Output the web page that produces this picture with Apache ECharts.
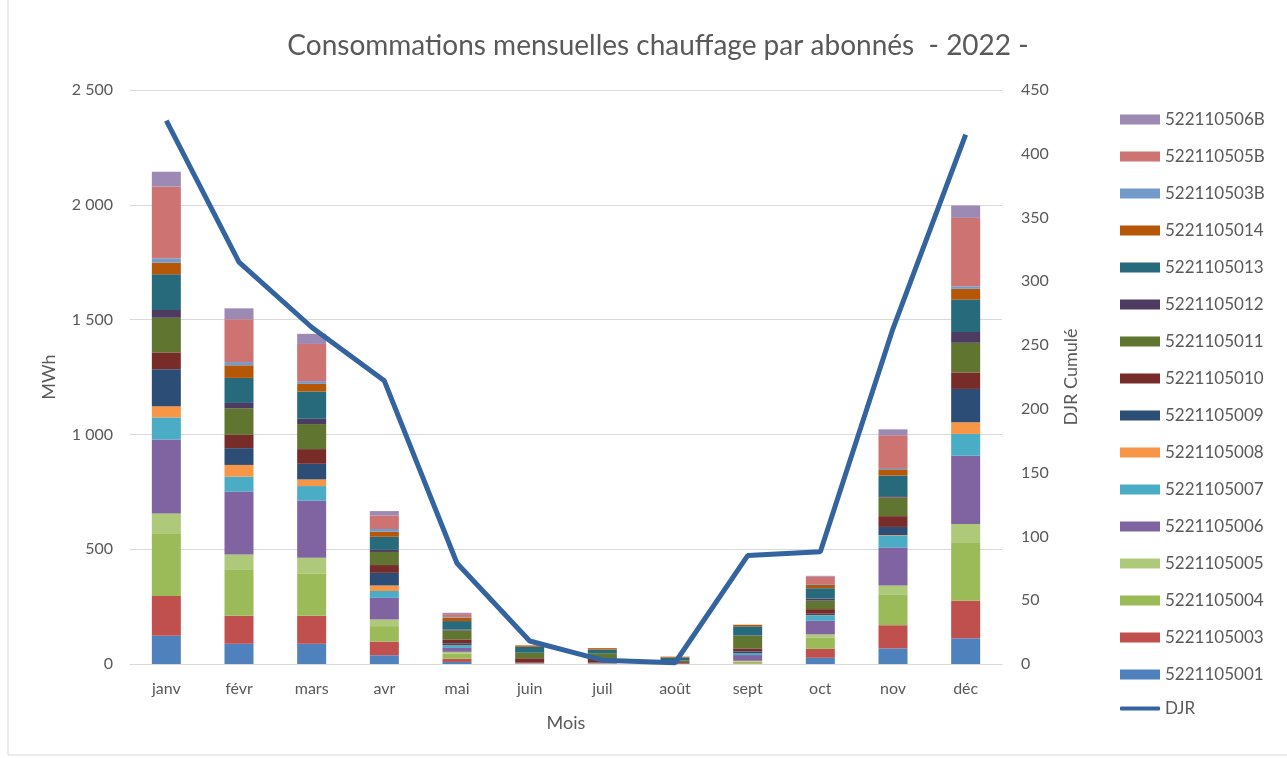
<!DOCTYPE html>
<html>
<head>
<meta charset="utf-8">
<script src="https://cdn.jsdelivr.net/npm/echarts@6/dist/echarts.min.js"></script>
<style>
  html, body { margin: 0; padding: 0; background: #fff; }
  #grafico { width: 1287px; height: 758px; }
</style>
</head>
<body>
<div id="grafico"></div>
<script>
// datos
const mois = ['janv', 'févr', 'mars', 'avr', 'mai', 'juin', 'juil', 'août', 'sept', 'oct', 'nov', 'déc'];

const abonnes = ['5221105001', '5221105003', '5221105004', '5221105005', '5221105006', '5221105007',
    '5221105008', '5221105009', '5221105010', '5221105011', '5221105012', '5221105013',
    '5221105014', '522110503B', '522110505B', '522110506B'];

const couleurs = ['#4f81bd', '#c0504d', '#9bbb59', '#afc97a', '#8064a2', '#4bacc6',
    '#f79646', '#2c4d75', '#772c2a', '#5f7530', '#4d3b62', '#276a7c',
    '#b65708', '#729aca', '#cd7371', '#9c8ab4'];

const c5001 = [123, 88, 88, 38, 9, 1, 1, 1, 0, 27, 68, 112];
const c5003 = [173, 122, 122, 59, 14, 2, 2, 1, 2, 39, 101, 164];
const c5004 = [273, 203, 183, 68, 23, 1, 1, 0, 8, 48, 132, 254];
const c5005 = [87, 64, 70, 29, 7, 0, 0, 0, 4, 15, 41, 80];
const c5006 = [322, 274, 248, 94, 17, 1, 1, 0, 25, 59, 165, 297];
const c5007 = [96, 65, 64, 30, 9, 0, 0, 0, 7, 22, 51, 95];
const c5008 = [49, 51, 29, 24, 2, 0, 0, 0, 0, 2, 3, 51];
const c5009 = [161, 73, 68, 55, 9, 1, 1, 0, 9, 7, 36, 145];
const c5010 = [73, 58, 64, 34, 17, 19, 16, 6, 13, 20, 47, 72];
const c5011 = [151, 116, 109, 57, 39, 24, 25, 7, 55, 37, 81, 129];
const c5012 = [34, 23, 23, 9, 4, 0, 0, 0, 2, 9, 6, 47];
const c5013 = [155, 109, 119, 57, 37, 26, 16, 13, 39, 45, 90, 141];
const c5014 = [51, 55, 33, 22, 15, 6, 6, 4, 7, 14, 27, 47];
const c503B = [19, 14, 12, 12, 3, 0, 0, 0, 0, 4, 6, 11];
const c505B = [312, 187, 162, 59, 12, 0, 0, 0, 0, 32, 142, 298];
const c506B = [65, 47, 44, 19, 6, 0, 0, 0, 0, 4, 26, 54];

const djr = [426, 315, 264, 222, 79, 18, 3, 1, 85, 88, 263, 415];

const valeurs = [c5001, c5003, c5004, c5005, c5006, c5007, c5008, c5009,
    c5010, c5011, c5012, c5013, c5014, c503B, c505B, c506B];

const gris = '#595959';
const police = 'Lato';

const chart = echarts.init(document.getElementById('grafico'));

function milliers(v) {
    return String(v).replace(/\B(?=(\d{3})+(?!\d))/g, ' ');
}

const series = abonnes.map((nom, i) => ({
    name: nom,
    type: 'bar',
    stack: 'total',
    barWidth: 29,
    itemStyle: { color: couleurs[i] },
    data: valeurs[i]
}));

series.push({
    name: 'DJR',
    type: 'line',
    yAxisIndex: 1,
    symbol: 'none',
    lineStyle: { color: '#3464a0', width: 5 },
    itemStyle: { color: '#3464a0' },
    data: djr
});

chart.setOption({
    textStyle: { fontFamily: police },
    animation: false,
    title: {
        text: 'Consommations mensuelles chauffage par abonnés  - 2022 -',
        left: 653,
        top: 27,
        textAlign: 'center',
        textStyle: { fontFamily: police, fontSize: 28, fontWeight: 'normal', color: gris }
    },
    graphic: [{
        type: 'rect',
        shape: { x: 8, y: -5, width: 1300, height: 760 },
        style: { fill: 'none', stroke: '#d9d9d9', lineWidth: 1 }
    }],
    legend: [{
        orient: 'vertical',
        left: 1120,
        top: 111,
        padding: 0,
        itemWidth: 40,
        itemHeight: 10,
        itemGap: 20,
        icon: 'rect',
        data: abonnes.slice().reverse(),
        textStyle: { fontFamily: police, fontSize: 17, color: gris, lineHeight: 16 }
    }, {
        orient: 'vertical',
        left: 1120,
        top: 700,
        padding: 0,
        itemWidth: 40,
        itemHeight: 4,
        data: [{ name: 'DJR', icon: 'roundRect' }],
        textStyle: { fontFamily: police, fontSize: 17, color: gris, lineHeight: 16 }
    }],
    grid: { left: 130, right: 285, top: 90, bottom: 94 },
    xAxis: {
        type: 'category',
        data: mois,
        name: 'Mois',
        nameLocation: 'middle',
        nameGap: 50,
        nameTextStyle: { fontSize: 18, color: gris },
        axisLine: { lineStyle: { color: '#d9d9d9', width: 1 } },
        axisTick: { show: false },
        axisLabel: { fontSize: 16, color: gris, margin: 17 }
    },
    yAxis: [{
        type: 'value',
        min: 0,
        max: 2500,
        interval: 500,
        name: 'MWh',
        nameLocation: 'middle',
        nameGap: 72,
        nameTextStyle: { fontSize: 18, color: gris },
        axisLabel: { fontSize: 16, color: gris, margin: 17, formatter: milliers },
        splitLine: { lineStyle: { color: '#d9d9d9', width: 1 } }
    }, {
        type: 'value',
        min: 0,
        max: 450,
        interval: 50,
        name: 'DJR Cumulé',
        nameLocation: 'middle',
        nameGap: 60,
        nameRotate: 90,
        nameTextStyle: { fontSize: 18, color: gris },
        axisLabel: { fontSize: 16, color: gris, margin: 19 },
        splitLine: { show: false }
    }],
    series: series
});

window.addEventListener('resize', () => chart.resize());
</script>
</body>
</html>
